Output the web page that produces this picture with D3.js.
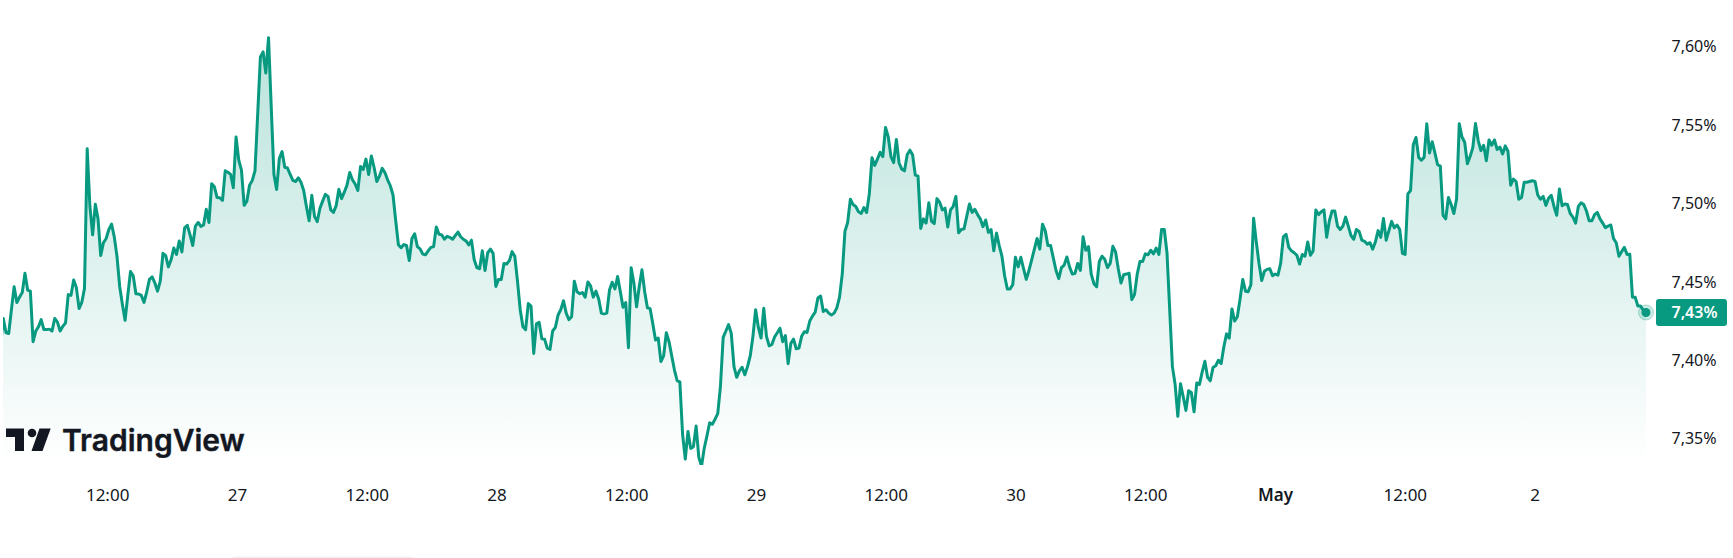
<!DOCTYPE html>
<html>
<head>
<meta charset="utf-8">
<script src="https://cdn.jsdelivr.net/npm/d3@7"></script>
<style>
	html, body { margin: 0; background: #fff; }
	svg { display: block; }
</style>
</head>
<body>
<svg id="chart" width="1733" height="558"></svg>
<script>
const startTime = '2025-04-26T02:09:00Z';
const endTime = '2025-05-02T10:18:00Z';

// readings, one every 15 minutes
const rate = [
	7.4098, 7.4267, 7.4176, 7.4171, 7.4323, 7.4469, 7.4369, 7.4403, 7.4432, 7.4555, 7.4448, 7.4441, 7.4119, 7.4187, 7.4214, 7.4260, 7.4196, 7.4196, 7.4199,
	7.4187, 7.4267, 7.4244, 7.4187, 7.4217, 7.4239, 7.4419, 7.4414, 7.4512, 7.4464, 7.4330, 7.4369, 7.4459, 7.5349, 7.4981, 7.4800,
	7.4995, 7.4902, 7.4668, 7.4750, 7.4777, 7.4834, 7.4868, 7.4788, 7.4664, 7.4471, 7.4357, 7.4255, 7.4414, 7.4566, 7.4539, 7.4425,
	7.4423, 7.4414, 7.4369, 7.4437, 7.4516, 7.4532, 7.4493, 7.4441, 7.4505, 7.4682, 7.4668, 7.4596, 7.4641, 7.4716, 7.4675, 7.4761,
	7.4691, 7.4845, 7.4861, 7.4800, 7.4732, 7.4856, 7.4879, 7.4854, 7.4863, 7.4963, 7.4879, 7.5126, 7.5106, 7.5038, 7.5036, 7.5020,
	7.5208, 7.5199, 7.5185, 7.5101, 7.5424, 7.5276, 7.5213, 7.4988, 7.5015, 7.5117, 7.5147, 7.5208, 7.5571, 7.5934, 7.5966, 7.5832,
	7.6057, 7.5616, 7.5185, 7.5090, 7.5287, 7.5331, 7.5231, 7.5226, 7.5185, 7.5147, 7.5140, 7.5163, 7.5135, 7.5083, 7.4981, 7.4890,
	7.5052, 7.4918, 7.4884, 7.4970, 7.5015, 7.5058, 7.5045, 7.4959, 7.4943, 7.4986, 7.5090, 7.5031, 7.5072, 7.5117, 7.5197, 7.5151,
	7.5124, 7.5083, 7.5235, 7.5217, 7.5283, 7.5185, 7.5303, 7.5231, 7.5140, 7.5174, 7.5224, 7.5197, 7.5151, 7.5113, 7.5054, 7.4890,
	7.4736, 7.4718, 7.4738, 7.4732, 7.4636, 7.4777, 7.4807, 7.4725, 7.4711, 7.4677, 7.4673, 7.4698,
	7.4720, 7.4725, 7.4850, 7.4804, 7.4800, 7.4772, 7.4791, 7.4784, 7.4772, 7.4795, 7.4818, 7.4788, 7.4772, 7.4761, 7.4736, 7.4766,
	7.4641, 7.4591, 7.4584, 7.4698, 7.4573, 7.4686, 7.4709, 7.4682, 7.4471, 7.4516, 7.4516, 7.4618, 7.4614, 7.4636, 7.4693, 7.4664,
	7.4505, 7.4323, 7.4214, 7.4196, 7.4362, 7.4346, 7.4044, 7.4233, 7.4242, 7.4137, 7.4135, 7.4078, 7.4069, 7.4187, 7.4210, 7.4289,
	7.4323, 7.4380, 7.4301, 7.4260, 7.4278, 7.4505, 7.4437, 7.4425, 7.4432, 7.4403, 7.4500, 7.4475, 7.4403, 7.4441, 7.4391, 7.4301,
	7.4296, 7.4301, 7.4448, 7.4498, 7.4455, 7.4534, 7.4437, 7.4339, 7.4369, 7.4081, 7.4591, 7.4493, 7.4341, 7.4471, 7.4577, 7.4437,
	7.4335, 7.4330, 7.4233, 7.4130, 7.4142, 7.3992, 7.4028, 7.4176, 7.4119, 7.4028, 7.3938, 7.3870, 7.3863, 7.3529, 7.3371, 7.3547,
	7.3439, 7.3450, 7.3581, 7.3382, 7.3325, 7.3439, 7.3518, 7.3602, 7.3593, 7.3625, 7.3661, 7.3836, 7.4146, 7.4187, 7.4228, 7.4171,
	7.3960, 7.3892, 7.3933, 7.3956, 7.3908, 7.3960, 7.4028, 7.4153, 7.4323, 7.4210, 7.4142, 7.4332, 7.4153, 7.4092, 7.4101, 7.4149,
	7.4176, 7.4205, 7.4119, 7.4158, 7.3979, 7.4108, 7.4135, 7.4074, 7.4078, 7.4153, 7.4183, 7.4178, 7.4251, 7.4282, 7.4307, 7.4398,
	7.4410, 7.4312, 7.4323, 7.4301, 7.4289, 7.4301, 7.4335, 7.4403, 7.4550, 7.4822, 7.4879, 7.5027,
	7.4993, 7.4981, 7.4947, 7.4936, 7.4974, 7.4943, 7.5061, 7.5292, 7.5242, 7.5283, 7.5326, 7.5299, 7.5485, 7.5424, 7.5299, 7.5260,
	7.5408, 7.5258, 7.5219, 7.5208, 7.5310, 7.5340, 7.5310, 7.5181, 7.5174, 7.4841, 7.4902, 7.4875, 7.5004, 7.4886, 7.4872, 7.5031,
	7.5008, 7.4959, 7.4970, 7.4850, 7.4959, 7.4981, 7.5045, 7.4813, 7.4834, 7.4838, 7.4918, 7.4997, 7.4943, 7.4963, 7.4929, 7.4902,
	7.4852, 7.4895, 7.4816, 7.4834, 7.4698, 7.4811, 7.4732, 7.4664, 7.4539, 7.4455, 7.4455, 7.4482, 7.4657, 7.4596, 7.4657, 7.4584,
	7.4516, 7.4573, 7.4641, 7.4709, 7.4777, 7.4709, 7.4868, 7.4827, 7.4732, 7.4732, 7.4652, 7.4573, 7.4521, 7.4591, 7.4607, 7.4659,
	7.4596, 7.4550, 7.4555, 7.4618, 7.4573, 7.4788, 7.4702, 7.4725, 7.4550, 7.4489, 7.4469, 7.4630, 7.4664, 7.4645, 7.4591, 7.4618,
	7.4727, 7.4691, 7.4584, 7.4493, 7.4546, 7.4550, 7.4555, 7.4387, 7.4419, 7.4550, 7.4630, 7.4630, 7.4679, 7.4673, 7.4702, 7.4679,
	7.4716, 7.4675, 7.4834, 7.4834, 7.4686, 7.4323, 7.3960, 7.3847, 7.3643, 7.3851, 7.3768, 7.3681, 7.3806, 7.3795, 7.3672, 7.3856,
	7.3847, 7.3926, 7.3994, 7.3892, 7.3870, 7.3954, 7.3965, 7.4001, 7.3979, 7.4085, 7.4169, 7.4142, 7.4328, 7.4251, 7.4278, 7.4391,
	7.4516, 7.4441, 7.4437, 7.4482, 7.4906, 7.4754, 7.4618, 7.4509, 7.4568, 7.4580, 7.4584,
	7.4539, 7.4550, 7.4543, 7.4618, 7.4788, 7.4804, 7.4720, 7.4698, 7.4686, 7.4670, 7.4614, 7.4675, 7.4664, 7.4754, 7.4670, 7.4698,
	7.4959, 7.4929, 7.4947, 7.4959, 7.4784, 7.4890, 7.4952, 7.4952, 7.4856, 7.4834, 7.4856, 7.4913, 7.4856, 7.4795, 7.4772, 7.4834,
	7.4822, 7.4766, 7.4759, 7.4741, 7.4750, 7.4709, 7.4754, 7.4827, 7.4784, 7.4904, 7.4766, 7.4827, 7.4886, 7.4845, 7.4863, 7.4834,
	7.4682, 7.4675, 7.5061, 7.5083, 7.5374, 7.5421, 7.5294, 7.5276, 7.5294, 7.5508, 7.5322, 7.5394, 7.5322, 7.5247, 7.5238, 7.4925,
	7.4902, 7.5038, 7.4993, 7.4936, 7.5027, 7.5508, 7.5424, 7.5390, 7.5253, 7.5299, 7.5356, 7.5510, 7.5401, 7.5337, 7.5371, 7.5272,
	7.5405, 7.5371, 7.5405, 7.5344, 7.5360, 7.5315, 7.5367, 7.5333, 7.5117, 7.5156, 7.5140, 7.5027, 7.5038, 7.5135, 7.5135, 7.5140,
	7.5145, 7.5140, 7.5054, 7.5027, 7.5045, 7.4988, 7.5033, 7.5052, 7.4981, 7.4925, 7.5092, 7.4986, 7.4997, 7.4993, 7.4936, 7.4913,
	7.4875, 7.4981, 7.5004, 7.4993, 7.4952, 7.4890, 7.4890, 7.4929, 7.4943, 7.4902, 7.4875, 7.4845, 7.4856, 7.4863, 7.4777, 7.4750,
	7.4664, 7.4693, 7.4720, 7.4675, 7.4677, 7.4403, 7.4403, 7.4346, 7.4346, 7.4319, 7.4305
];

const rateTicks = [7.35, 7.40, 7.45, 7.50, 7.55, 7.60];
const timeTicks = ['2025-04-26T12:00Z', '2025-04-27T00:00Z', '2025-04-27T12:00Z', '2025-04-28T00:00Z', '2025-04-28T12:00Z', '2025-04-29T00:00Z', '2025-04-29T12:00Z', '2025-04-30T00:00Z', '2025-04-30T12:00Z', '2025-05-01T00:00Z', '2025-05-01T12:00Z', '2025-05-02T00:00Z'];
const timeLabels = ['12:00', '27', '12:00', '28', '12:00', '29', '12:00', '30', '12:00', 'May', '12:00', '2'];
const lastLabel = '7,43%';

const green = '#089981';
const plotBottom = 465;
const font = '"Noto Sans", sans-serif';

const svg = d3.select('#chart');

const t0 = new Date(startTime).getTime();
const stepMs = (new Date(endTime).getTime() - t0) / (rate.length - 1);
const points = rate.map((v, i) => ({ t: new Date(t0 + i * stepMs), v }));

const xScale = d3.scaleUtc()
	.domain([new Date(startTime), new Date(endTime)])
	.range([0.6, 1646]);

const yScale = d3.scaleLinear()
	.domain([7.35, 7.60])
	.range([438.8, 46.6]);

const defs = svg.append('defs');

// the series starts off screen, cut it at the left edge of the plot
defs.append('clipPath').attr('id', 'plot')
	.append('rect')
	.attr('x', 3)
	.attr('y', 0)
	.attr('width', 1650)
	.attr('height', plotBottom);

const gradient = defs.append('linearGradient')
	.attr('id', 'fade')
	.attr('gradientUnits', 'userSpaceOnUse')
	.attr('x1', 0).attr('x2', 0)
	.attr('y1', yScale(d3.max(rate)))
	.attr('y2', plotBottom);
gradient.append('stop').attr('offset', 0).attr('stop-color', green).attr('stop-opacity', 0.28);
gradient.append('stop').attr('offset', 1).attr('stop-color', green).attr('stop-opacity', 0);

const area = d3.area()
	.x(d => xScale(d.t))
	.y0(plotBottom)
	.y1(d => yScale(d.v));

const line = d3.line()
	.x(d => xScale(d.t))
	.y(d => yScale(d.v));

const plot = svg.append('g').attr('clip-path', 'url(#plot)');

plot.append('path')
	.datum(points)
	.attr('d', area)
	.attr('fill', 'url(#fade)');

plot.append('path')
	.datum(points)
	.attr('d', line)
	.attr('fill', 'none')
	.attr('stroke', green)
	.attr('stroke-width', 3)
	.attr('stroke-linejoin', 'round');

// axes, no lines, only labels
const xAxis = d3.axisBottom(xScale)
	.tickValues(timeTicks.map(d => new Date(d)))
	.tickSize(0)
	.tickFormat((d, i) => timeLabels[i]);

const yAxis = d3.axisRight(yScale)
	.tickValues(rateTicks)
	.tickSize(0)
	.tickFormat(d => d.toFixed(2).replace('.', ',') + '%');

const gx = svg.append('g').attr('transform', 'translate(0, 486)').call(xAxis);
gx.select('.domain').remove();
gx.selectAll('text')
	.attr('font-family', font)
	.attr('font-size', 17)
	.attr('fill', '#131722')
	.attr('font-weight', (d, i) => timeLabels[i] === 'May' ? 600 : 400);

const gy = svg.append('g').attr('transform', 'translate(1671.5, 0)').call(yAxis);
gy.select('.domain').remove();
gy.selectAll('text')
	.attr('x', 0)
	.attr('font-family', font)
	.attr('font-size', 16)
	.attr('fill', '#131722');

// last value marker and badge
const last = points[points.length - 1];
svg.append('circle')
	.attr('cx', xScale(last.t))
	.attr('cy', yScale(last.v))
	.attr('r', 7.5)
	.attr('fill', green)
	.attr('fill-opacity', 0.2)
	.attr('stroke', green)
	.attr('stroke-opacity', 0.3);
svg.append('circle')
	.attr('cx', xScale(last.t))
	.attr('cy', yScale(last.v))
	.attr('r', 4.5)
	.attr('fill', green);

svg.append('rect')
	.attr('x', 1656)
	.attr('y', yScale(last.v) - 13.4)
	.attr('width', 71)
	.attr('height', 26.8)
	.attr('rx', 3)
	.attr('fill', green);
svg.append('text')
	.attr('x', 1671.5)
	.attr('y', yScale(last.v))
	.attr('dy', '0.35em')
	.attr('font-family', font)
	.attr('font-size', 16)
	.attr('font-weight', 600)
	.attr('fill', '#fff')
	.text(lastLabel);

// TradingView mark
const logo = svg.append('g').attr('fill', '#131722');
logo.append('path').attr('d', 'M6 428.5H24V451H15V437H6Z');
logo.append('circle').attr('cx', 32).attr('cy', 433).attr('r', 4.3);
logo.append('path').attr('d', 'M39.5 428.5H50.7L42.5 451H31.5Z');
logo.append('text')
	.attr('x', 62)
	.attr('y', 451)
	.attr('font-family', 'Inter, sans-serif')
	.attr('font-size', 30)
	.attr('font-weight', 600)
	.attr('stroke', '#131722')
	.attr('stroke-width', 0.4)
	.text('TradingView');

// faint edge at the bottom of the page
svg.append('rect')
	.attr('x', 231)
	.attr('y', 556.5)
	.attr('width', 183)
	.attr('height', 8)
	.attr('rx', 4)
	.attr('fill', '#f0f0f0');
</script>
</body>
</html>
